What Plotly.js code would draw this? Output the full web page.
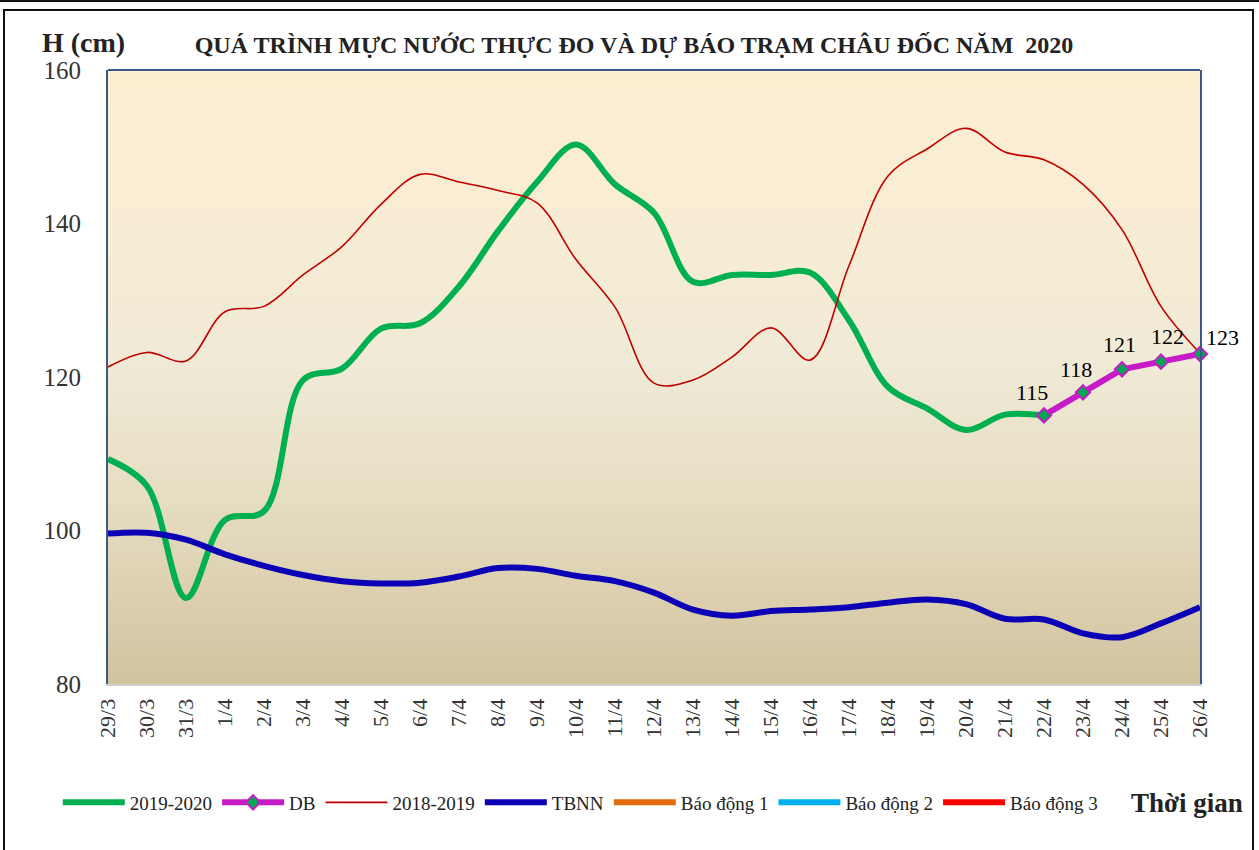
<!DOCTYPE html>
<html>
<head>
<meta charset="utf-8">
<script src="https://cdn.plot.ly/plotly-3.0.1.min.js"></script>
<style>
  html, body { margin: 0; padding: 0; background: #ffffff; }
  #wrap { position: relative; width: 1259px; height: 850px; overflow: hidden; background: #ffffff; }
  #bg { position: absolute; left: 108px; top: 70px; width: 1092px; height: 614px;
        background: linear-gradient(to bottom, #FDEED1 0%, #F7ECD5 30%, #F0EAD6 48%, #E6DDC2 70%, #D2C39F 100%); }
  #chart { position: absolute; left: 0; top: 0; width: 1259px; height: 850px; }
  .frame { position: absolute; background: #111; }
</style>
</head>
<body>
<div id="wrap">
  <div id="bg"></div>
  <div id="chart"></div>
  <div class="frame" style="left:0;top:0;width:1259px;height:2px;"></div>
  <div class="frame" style="left:3px;top:9px;width:1251px;height:2px;"></div>
  <div class="frame" style="left:3px;top:9px;width:2px;height:841px;"></div>
  <div class="frame" style="left:1252px;top:9px;width:2px;height:841px;"></div>
</div>
<script>
// Categories (dates)
const categories = ['29/3','30/3','31/3','1/4','2/4','3/4','4/4','5/4','6/4','7/4','8/4','9/4','10/4','11/4','12/4','13/4','14/4','15/4','16/4','17/4','18/4','19/4','20/4','21/4','22/4','23/4','24/4','25/4','26/4'];

// Observed 2019-2020
const obs2020 = [109.3,105.8,91.2,101.4,102.5,119.6,121.1,126.3,127.0,131.8,139.0,145.4,150.3,145.1,141.4,132.4,133.3,133.3,133.6,127.4,118.7,115.9,113.1,115.1,115,null,null,null,null];

// Forecast (DB)
const forecast = [null,null,null,null,null,null,null,null,null,null,null,null,null,null,null,null,null,null,null,null,null,null,null,null,115,118,121,122,123];

// 2018-2019
const obs2019 = [121.3,123.2,122.1,128.5,129.2,133.3,137.0,142.5,146.4,145.4,144.3,142.7,135.3,129.1,119.2,119.6,122.6,126.4,122.2,134.5,146.2,149.7,152.4,149.3,148.3,145.1,139.2,129.2,123.1];

// Long-term average (TBNN)
const tbnn = [99.6,99.7,98.8,96.9,95.4,94.2,93.4,93.1,93.2,94.0,95.1,95.0,94.1,93.4,91.9,89.7,88.9,89.5,89.7,90.0,90.6,91.0,90.4,88.5,88.4,86.6,86.1,87.9,90.0];

// Alarm levels (cm) - outside the displayed range
const alarm1 = 350, alarm2 = 400, alarm3 = 450;

const yTicks = [80, 100, 120, 140, 160];

// label placement (styling only)
const labelXShift = [-12, -7, -3, 6, 22];
const labelYShift = [23, 23, 25, 25, 16];

const serif = 'Liberation Serif, Times New Roman, serif';

const labelAnnotations = [];
let k = 0;
forecast.forEach((v, i) => {
  if (v == null) return;
  labelAnnotations.push({
    x: categories[i], y: v, xref: 'x', yref: 'y', text: String(v), showarrow: false,
    xanchor: 'center', yanchor: 'middle', xshift: labelXShift[k], yshift: labelYShift[k],
    font: { family: serif, size: 22, color: '#000' }
  });
  k++;
});

const traces = [
  { x: categories, y: obs2020, name: '2019-2020', type: 'scatter', mode: 'lines',
    line: { color: '#00B050', width: 6, shape: 'spline', smoothing: 1 }, legendrank: 1 },
  { x: categories, y: obs2019, name: '2018-2019', type: 'scatter', mode: 'lines',
    line: { color: '#C00000', width: 1.6, shape: 'spline', smoothing: 1 }, legendrank: 3 },
  { x: categories, y: tbnn, name: 'TBNN', type: 'scatter', mode: 'lines',
    line: { color: '#0B00B5', width: 6, shape: 'spline', smoothing: 1 }, legendrank: 4 },
  { x: categories, y: forecast, name: 'DB', type: 'scatter', mode: 'lines+markers',
    line: { color: '#C81BC8', width: 6 }, cliponaxis: false,
    marker: { symbol: 'diamond', size: 11, color: '#00A650', line: { color: '#C81BC8', width: 2 } },
    legendrank: 2 },
  { x: categories, y: categories.map(() => alarm1), name: 'Báo động 1', type: 'scatter', mode: 'lines',
    line: { color: '#E46C0A', width: 6 }, legendrank: 5 },
  { x: categories, y: categories.map(() => alarm2), name: 'Báo động 2', type: 'scatter', mode: 'lines',
    line: { color: '#00B0F0', width: 6 }, legendrank: 6 },
  { x: categories, y: categories.map(() => alarm3), name: 'Báo động 3', type: 'scatter', mode: 'lines',
    line: { color: '#FF0000', width: 6 }, legendrank: 7 }
];

const layout = {
  width: 1259, height: 850,
  margin: { l: 108, r: 59, t: 70, b: 166 },
  paper_bgcolor: 'rgba(0,0,0,0)',
  plot_bgcolor: 'rgba(0,0,0,0)',
  font: { family: serif, color: '#333' },
  title: {
    text: '<b>QUÁ TRÌNH MỰC NƯỚC THỰC ĐO VÀ DỰ BÁO TRẠM CHÂU ĐỐC NĂM  2020</b>',
    font: { family: serif, size: 24, color: '#222' },
    xref: 'container', yref: 'container', x: 0.5036, y: 0.947, xanchor: 'center', yanchor: 'middle'
  },
  xaxis: {
    type: 'category', range: [0, 28], tickangle: -90,
    tickfont: { family: serif, size: 22, color: '#333' },
    showgrid: false, zeroline: false, ticks: '', ticklabelstandoff: 4,
    showline: true, linecolor: '#CFCFCF', linewidth: 2, fixedrange: true
  },
  yaxis: {
    range: [80, 160], tickvals: yTicks, ticktext: yTicks.map(String),
    tickfont: { family: serif, size: 25, color: '#333' },
    showgrid: false, zeroline: false, ticks: '', ticklabelstandoff: 20,
    showline: true, mirror: true, linecolor: '#3A5A86', linewidth: 2, fixedrange: true
  },
  shapes: [
    { type: 'line', xref: 'paper', yref: 'paper', x0: 0, x1: 1, y0: 1, y1: 1,
      line: { color: '#3A5A86', width: 2 } }
  ],
  showlegend: true,
  legend: {
    orientation: 'h', x: -0.046, y: -0.193, xanchor: 'left', yanchor: 'middle',
    font: { family: serif, size: 19, color: '#222' },
    bgcolor: 'rgba(0,0,0,0)', traceorder: 'normal', itemwidth: 62
  },
  annotations: labelAnnotations.concat([
    { text: '<b>H (cm)</b>', xref: 'paper', yref: 'paper', x: -0.022, y: 1.0456,
      xanchor: 'center', yanchor: 'middle', showarrow: false,
      font: { family: serif, size: 28, color: '#222' } },
    { text: '<b>Thời gian</b>', xref: 'paper', yref: 'paper', x: 0.988, y: -0.1938,
      xanchor: 'center', yanchor: 'middle', showarrow: false,
      font: { family: serif, size: 27, color: '#222' } }
  ])
};

Plotly.newPlot('chart', traces, layout, { displayModeBar: false, staticPlot: true });
</script>
</body>
</html>
